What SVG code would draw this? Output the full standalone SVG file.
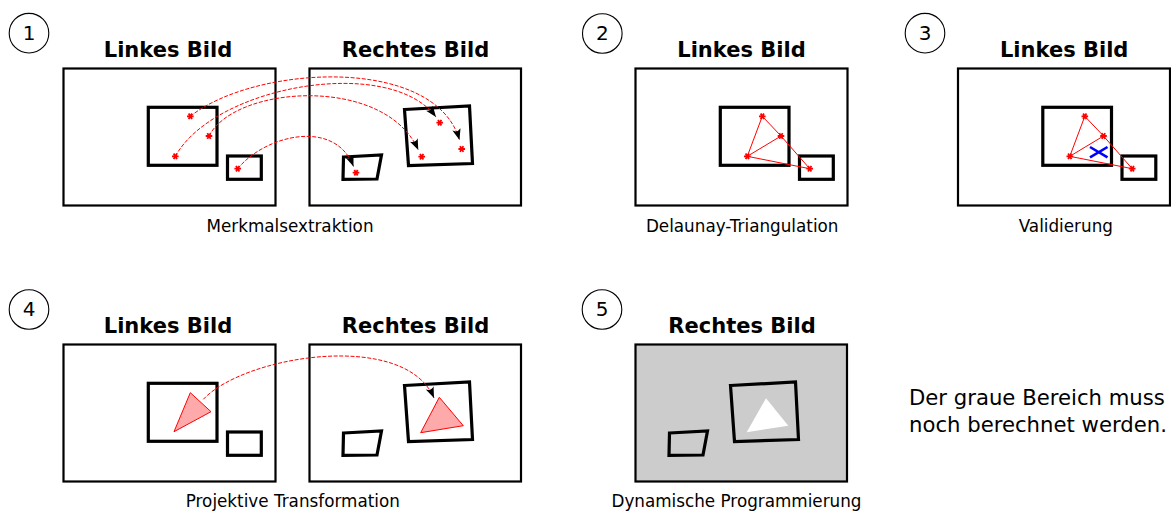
<svg xmlns="http://www.w3.org/2000/svg" xmlns:xlink="http://www.w3.org/1999/xlink" width="1171" height="511" viewBox="0 0 1171 511">
<style>
.frame{fill:#fff;stroke:#000;stroke-width:2.2}
.obj{fill:none;stroke:#000;stroke-width:3.2}
.title{font-family:"DejaVu Sans",sans-serif;font-weight:bold;font-size:21px;text-anchor:middle;fill:#000}
.cap{font-family:"DejaVu Sans",sans-serif;font-size:16.8px;text-anchor:middle;fill:#000}
.note{font-family:"DejaVu Sans",sans-serif;font-size:21.2px;fill:#000}
.num{font-family:"DejaVu Sans",sans-serif;font-size:20px;text-anchor:middle;fill:#000}
.circ{fill:none;stroke:#000;stroke-width:1.1}
.tri{fill:none;stroke:#f00;stroke-width:1}
.link{fill:none;stroke:#f00;stroke-width:1;stroke-dasharray:4 1.6;marker-end:url(#ah)}
</style>
<defs>
<marker id="ah" markerUnits="userSpaceOnUse" markerWidth="12" markerHeight="10" refX="0" refY="0" orient="auto" overflow="visible">
<path d="M0,0 L-11,-4.2 Q-7.3,0 -11,4.2 Z" fill="#000"/>
</marker>
<path id="st" d="M-3.3,0H3.3M-1.65,-2.85L1.65,2.85M1.65,-2.85L-1.65,2.85" stroke="#f00" stroke-width="1.8" fill="none"/>
<g id="leftImg">
<rect class="frame" x="63.5" y="68.5" width="212" height="137"/>
<rect class="obj" x="148.3" y="107.3" width="68.7" height="58"/>
<rect class="obj" x="227.5" y="156" width="33.8" height="23.3"/>
</g>
<g id="rightImg">
<rect class="frame" x="309.5" y="68.5" width="211.5" height="137"/>
<polygon class="obj" points="404.5,109.5 469.5,106 472.5,163.5 408.5,165.5"/>
<polygon class="obj" points="343.5,157 381.5,155 377,179 343,179.3"/>
</g>
</defs>
<rect width="1171" height="511" fill="#fff"/>

<g id="panel1">
<circle class="circ" cx="29" cy="33.2" r="19.8"/>
<text class="num" x="29" y="40">1</text>
<text class="title" x="168" y="56.5">Linkes Bild</text>
<use xlink:href="#leftImg"/>
<text class="title" x="415.5" y="56.5">Rechtes Bild</text>
<use xlink:href="#rightImg"/>
<use xlink:href="#st" x="190.3" y="116.3"/>
<use xlink:href="#st" x="209" y="136"/>
<use xlink:href="#st" x="175.3" y="156.3"/>
<use xlink:href="#st" x="237.7" y="168.7"/>
<use xlink:href="#st" x="439.7" y="122.7"/>
<use xlink:href="#st" x="461.7" y="149"/>
<use xlink:href="#st" x="421.7" y="156.7"/>
<use xlink:href="#st" x="356" y="172.7"/>
<text class="cap" x="290" y="231.5">Merkmalsextraktion</text>
</g>

<g id="panel2">
<circle class="circ" cx="602.3" cy="33.5" r="19.8"/>
<text class="num" x="602.3" y="40.2">2</text>
<text class="title" x="741.5" y="56.5">Linkes Bild</text>
<use xlink:href="#leftImg" transform="translate(572,0)"/>
<g transform="translate(572,0)">
<polygon class="tri" points="190.3,116.3 209,136 175.3,156.3"/>
<polyline class="tri" points="209,136 237.7,168.7 175.3,156.3"/>
<use xlink:href="#st" x="190.3" y="116.3"/>
<use xlink:href="#st" x="209" y="136"/>
<use xlink:href="#st" x="175.3" y="156.3"/>
<use xlink:href="#st" x="237.7" y="168.7"/>
</g>
<text class="cap" x="742.2" y="231.5">Delaunay-Triangulation</text>
</g>

<g id="panel3">
<circle class="circ" cx="925" cy="33.2" r="19.8"/>
<text class="num" x="925" y="40">3</text>
<text class="title" x="1064.2" y="56.5">Linkes Bild</text>
<use xlink:href="#leftImg" transform="translate(894.5,0)"/>
<g transform="translate(894.5,0)">
<polygon class="tri" points="190.3,116.3 209,136 175.3,156.3"/>
<polyline class="tri" points="209,136 237.7,168.7 175.3,156.3"/>
<use xlink:href="#st" x="190.3" y="116.3"/>
<use xlink:href="#st" x="209" y="136"/>
<use xlink:href="#st" x="175.3" y="156.3"/>
<use xlink:href="#st" x="237.7" y="168.7"/>
</g>
<path d="M1090,147 L1107.5,157.3 M1090,157.3 L1107.5,147" stroke="#0000ff" stroke-width="2.6" fill="none"/>
<text class="cap" x="1065.8" y="231.5">Validierung</text>
</g>

<g id="panel4">
<circle class="circ" cx="29" cy="309.5" r="19.8"/>
<text class="num" x="29" y="316.3">4</text>
<text class="title" x="168" y="332.5">Linkes Bild</text>
<use xlink:href="#leftImg" transform="translate(0,276)"/>
<text class="title" x="415.5" y="332.5">Rechtes Bild</text>
<use xlink:href="#rightImg" transform="translate(0,276)"/>
<polygon points="190.3,392.7 211,411.7 174,431.7" fill="#ffaaaa" stroke="#f00" stroke-width="1"/>
<polygon points="439.3,397.3 463.3,425.7 420.7,432.7" fill="#ffaaaa" stroke="#f00" stroke-width="1"/>
<text class="cap" x="292.8" y="507">Projektive Transformation</text>
</g>

<g id="panel5">
<circle class="circ" cx="602" cy="309.5" r="19.8"/>
<text class="num" x="602" y="316.3">5</text>
<text class="title" x="742" y="332.5">Rechtes Bild</text>
<g transform="translate(326,276)">
<rect class="frame" x="309.5" y="68.5" width="211.5" height="137" style="fill:#cccccc"/>
<polygon class="obj" points="404.5,109.5 469.5,106 472.5,163.5 408.5,165.5"/>
<polygon class="obj" points="343.5,157 381.5,155 377,179 343,179.3"/>
</g>
<polygon points="766,398.3 788.3,425.7 746.7,432.3" fill="#fff"/>
<text class="cap" x="736.5" y="507">Dynamische Programmierung</text>
</g>

<g id="note">
<text class="note" x="909" y="405">Der graue Bereich muss</text>
<text class="note" x="909" y="431.5">noch berechnet werden.</text>
</g>

<g id="connectors">
<path class="link" d="M190.3,116.3 C255,65 435,55 459.5,140"/>
<path class="link" d="M175.3,156.3 C215,85 390,55 436,117"/>
<path class="link" d="M209,136 C235,85 385,75 418.3,150"/>
<path class="link" d="M237.7,168.7 C265,135 335,118 353.5,166.5"/>
<path class="link" d="M203.3,399.3 C245,355 405,330 434,398"/>
</g>
</svg>
